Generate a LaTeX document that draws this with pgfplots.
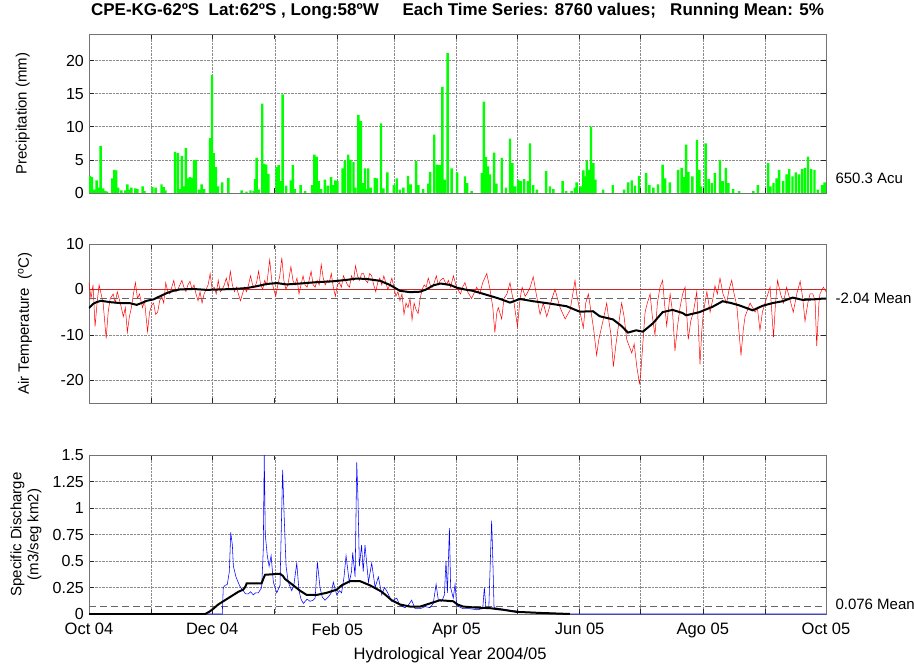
\documentclass[border=0pt]{standalone}
\usepackage{pgfplots}
\pgfplotsset{compat=1.18}
\usepackage{fontspec}
\setmainfont{Liberation Sans}
\definecolor{mgreen}{rgb}{0,1,0}
\definecolor{mred}{rgb}{1,0,0}
\definecolor{zred}{rgb}{0.8,0.15,0.15}
\definecolor{mblue}{rgb}{0,0,1}
\definecolor{dgray}{rgb}{0.4,0.4,0.4}
\pgfplotsset{
  mstyle/.style={
    scale only axis, width=737pt, height=159pt,
    xmin=0, xmax=365,
    xtick={0,31,61,92,123,151,182,212,243,273,304,335,365},
    xmajorgrids, ymajorgrids,
    major grid style={densely dotted, black!45, line width=0.5pt},
    axis line style={black!55, line width=0.7pt},
    tick style={black!85, line width=0.6pt},
    tick align=inside, tick pos=both, major tick length=5pt,
    tick label style={font=\fontsize{16}{16}\selectfont},
    yticklabel style={inner sep=1pt, xshift=-4pt},
    label style={font=\fontsize{15}{17}\selectfont},
    /pgf/number format/assume math mode=true,
    clip mode=individual,
  }
}
\begin{document}
\begin{tikzpicture}
\path[use as bounding box] (0pt,0pt) rectangle (914pt,-671pt);
% ---------------- Precipitation ----------------
\begin{axis}[mstyle, at={(89pt,-34pt)}, anchor=north west,
  ymin=0, ymax=24, ytick={0,5,10,15,20}, xticklabels={},
  ylabel={Precipitation (mm)},
  ylabel style={at={(axis description cs:-0.09,0.5)}, anchor=center},
  title={\bfseries\fontsize{17}{18}\selectfont CPE-KG-62ºS\ \ Lat:62ºS , Long:58ºW\ \ \ \ \ Each Time Series: 8760 values;\ \ \ Running Mean: 5\%},
  title style={at={(axis description cs:0.5,1)}, anchor=center, yshift=17pt},
]
\addplot[ybar, bar width=1.2, bar shift=0pt, fill=mgreen, draw=none] coordinates {
(0.5,2.6)(1.5,2.4)(2.5,0.5)(3.8,1.9)(4.8,0.8)(5.8,7.1)(7,0.7)(8,0.3)(9,0.2)(11.5,2.2)(12.5,3.5)(13.5,3.4)(14.5,0.8)(16,0.4)(18,0.4)(19,1.3)(20,0.5)(21,0.8)(23,0.7)(24,0.6)(26.6,1.0)(27.5,0.3)(31.4,0.9)(33,0.8)(35.9,1.3)(37,0.9)(37.8,0.4)(42.6,6.2)(44,6.0)(45,0.6)(46,5.6)(47,1.0)(48,6.8)(49,2.2)(50,2.4)(51,2.3)(52,5.0)(53,5.0)(54.5,0.5)(55.8,1.3)(57,0.6)(60,8.3)(60.9,17.8)(61.8,6.0)(62.8,3.9)(63.8,1.0)(65.9,1.6)(69,2.3)(75.6,0.4)(78,0.2)(80,0.4)(81.5,0.3)(82.3,2.1)(83,5.3)(84,0.5)(85.8,13.5)(86.7,4.4)(87.8,4.3)(88.9,2.9)(92.9,3.9)(93.9,4.2)(94.9,1.8)(95.9,14.9)(97.7,1.1)(100,1.9)(101,4.2)(102,0.6)(104.8,1.2)(107,0.3)(110.5,1.2)(111.6,5.8)(112.7,5.5)(113.7,1.8)(115,0.6)(116.8,2.0)(118.3,1.1)(119.9,2.4)(121,1.2)(122,1.9)(123,1.8)(125.6,3.7)(126.7,4.9)(128.4,5.8)(129.5,5.0)(131,4.7)(132,0.8)(133.4,11.8)(134.7,10.9)(135.7,1.5)(136.7,3.7)(137.7,0.6)(138.3,3.7)(139.5,0.8)(141.6,2.3)(142.6,2.2)(144.6,10.5)(145.8,0.7)(147.8,3.1)(151,1.2)(152.4,2.2)(154,0.5)(155.7,0.8)(158,2.6)(159.3,1.3)(162,4.8)(163.2,1.2)(165.5,0.6)(168,1.4)(168.9,3.2)(171,8.8)(172.4,4.3)(173.8,4.2)(175,16.0)(176.2,2.0)(177.6,21.1)(179.6,3.7)(182.3,3.1)(186.2,2.5)(187.3,1.5)(189.5,0.3)(194.5,3.0)(195.6,13.8)(196.6,5.4)(197.6,4.0)(198.5,2.8)(200.6,6.1)(201.8,1.4)(204.4,5.3)(206.5,0.8)(208.5,8.2)(209.7,4.5)(211,1.0)(212.6,2.0)(213.8,1.8)(215.5,2.1)(217.3,1.8)(218.4,7.5)(220,1.2)(221.8,0.5)(226.4,3.3)(228.3,1.0)(230,0.6)(234.6,1.8)(236.3,0.3)(239,0.3)(240.6,0.8)(241.5,1.6)(243.5,1.0)(244.8,3.4)(245.7,2.5)(246.5,4.8)(247.6,3.5)(248.6,10.0)(249.8,4.5)(250.8,2.0)(254.6,0.5)(259.4,1.2)(265,0.5)(267,1.6)(268.8,1.9)(270.4,1.1)(272.4,2.6)(275.9,3.0)(277.5,1.2)(279.5,0.8)(281.8,1.3)(284.1,4.3)(285.3,2.2)(287.7,1.6)(291.8,3.5)(293.5,3.8)(294.6,2.4)(295.7,7.3)(296.9,3.2)(298.8,2.5)(301.1,8.0)(302.3,3.5)(303.2,1.0)(305.4,7.5)(306.9,2.1)(308.4,1.5)(310,3.0)(312.5,5.0)(313.8,1.8)(315.4,3.8)(316.7,1.5)(319,0.6)(322,0.3)(329,0.3)(331.3,1.2)(336.3,4.5)(337.5,1.0)(339,1.5)(340.5,2.2)(341.8,3.5)(343.8,1.8)(345.5,2.8)(346.8,3.6)(348.4,2.5)(350,3.1)(351.6,2.8)(353.2,3.6)(354.6,3.8)(356.1,5.5)(357.7,3.6)(359.3,3.5)(361,0.5)(363,1.2)(364.3,1.6)
};
\node[anchor=west, font=\fontsize{15}{15}\selectfont, xshift=6pt] at (axis cs:365,2.25) {650.3 Acu};
\end{axis}
% ---------------- Air temperature ----------------
\begin{axis}[mstyle, at={(89pt,-244pt)}, anchor=north west,
  ymin=-25, ymax=10, ytick={-20,-10,0,10}, xticklabels={},
  ylabel={Air Temperature\ \ (\textsuperscript{o}C)},
  ylabel style={at={(axis description cs:-0.087,0.5)}, anchor=center},
]
\addplot[zred, line width=0.6pt] coordinates {(0,0) (365,0)};
\addplot[mred, line width=0.5pt] coordinates {
(0,1.5)(1,-2)(2,1.0)(3,-8.2)(4,-3)(5,1.0)(6,-1)(7,-3)(8.5,-10.8)(9.5,-5)(10.5,-2)(12,-1)(13,-3)(14,-0.5)(15.5,-3)(17,-6)(18,-4)(19,-9.4)(20,-6)(21,-4)(22,-1)(23,1.5)(24,-2)(25,-1)(26.5,-4)(27.5,-2.5)(29,-9.3)(30,-5)(31,-3.5)(32,-3)(33,-5.5)(34,-5)(35,-2.5)(36,-1.5)(37,-3)(38,1.5)(39,-0.5)(40,-1)(41,0.5)(42,2.0)(43,-0.5)(44,0)(45,1)(46,2.0)(47,0.5)(48,-0.5)(49,1)(50,1.8)(51,0)(52,1)(53,-1)(54,-2.5)(55,-0.5)(56,-3)(57,-1)(58,0)(59,1)(60,3.5)(61,0)(62,0.5)(63,-1)(64,2.0)(65,-0.5)(66,0)(67,1)(68,2.5)(69,0.5)(70,4.0)(71,1)(72,-0.5)(73,0.5)(74,-1)(75,-2.5)(76,-1)(77,0.5)(78,-0.5)(79,1)(80,3.0)(81,1)(82,0.5)(83,1.5)(84,4.0)(85,1)(86,0)(87,2)(88,1)(89.5,6.5)(90.5,2.0)(91.5,0)(92.5,-1.5)(93.5,1)(94.5,3)(95.5,7.0)(96.5,2)(97.5,0)(98.5,1)(100,5)(101,2)(102,1)(103,2.5)(104,-1)(105,1)(106,3)(107,1)(108,0.5)(109,2)(110,4)(111,1)(112,0.5)(113,2)(114,1)(115,5.5)(116,2.5)(117,1)(118,2)(119,1.5)(120,3.5)(121,0.5)(122,-1.5)(123,1)(124,1.5)(125,0.5)(126,3)(127,2)(128,1)(129,0.5)(130,3)(131,2)(132,5.2)(133,3)(134,2)(135,3.5)(136,3.5)(137,2)(138,1.5)(139,3.5)(140,3)(141,1)(142,-0.5)(143,1.5)(144,2.5)(145,1)(146,3)(147,1.5)(148,0)(149,1)(150,2.5)(151,0.5)(152,-1.5)(153,-0.5)(154,-2.5)(155,-1)(156,-5.5)(157,-3)(158,-4)(159,-2)(160,-6.7)(161,-3)(162,-4.5)(163,-5.3)(164,-2)(165,0)(166,1)(167,0.5)(168,2.5)(169,1)(170,0.5)(171,1.5)(172,3)(173,1)(174,2)(175.5,2.5)(177,1)(178,2)(179,0.5)(180.5,3.0)(182,0.5)(184,-1.0)(185,0.5)(186.2,1.5)(187.5,-0.5)(189.5,-2.0)(191,-0.5)(192,0.5)(193.5,-1)(195,1.5)(197,3.5)(198.6,0)(200,-4)(201,-9.5)(202,-5)(202.7,-4)(204.4,-6.5)(205.5,-2)(207,-1)(208.5,1.5)(209.5,-1)(210.5,-3)(212.2,-8.2)(213.5,-2)(214.5,0.5)(216,-1.5)(216.8,-1)(218.5,0.5)(220,2.8)(221.5,-1)(223.4,-5.5)(225,-3)(226.7,-6)(228,-4)(229.3,-2)(230.8,0.0)(232,-2)(233.3,-4)(235.8,-6.5)(238.3,-4.5)(240.7,2.0)(241.5,-1)(243.2,-5)(244.8,-8.5)(246,-3)(247.3,-1.0)(249,-6)(250,-9)(251.4,-14.5)(252.5,-11)(254,-8)(255,-6)(256.4,-3)(257.5,-7)(258.5,-10)(259.7,-17)(261,-12)(262.2,-8)(263.8,-3)(265,-6)(266.3,-11)(268.8,-14)(270,-12)(271.3,-17)(272.6,-20.7)(273.2,-19)(273.8,-15)(275.4,-5)(276.5,-3)(277.9,-1)(279,-6)(280.3,-10)(281.5,-3)(282.8,0.5)(284.1,2)(285,-3)(286.1,-8)(287.8,-1)(289,-5)(290.2,-13.5)(291.5,-8)(292.7,-4)(294,-1)(295.2,0.5)(296.8,-11)(298,-7)(299.3,-5)(301,-0.5)(302.6,-16.5)(303.5,-9)(304.3,-5)(306,-0.5)(307.6,-5)(309,-2)(310,0.8)(311.2,-1)(312.5,2.5)(314,-1)(315.8,-3)(317,0)(318.3,2.0)(319.5,-1)(320.8,-3.5)(322.9,-14.5)(324,-9)(324.9,-6)(327.4,-3)(329.9,-5)(331,-4)(332.3,-9)(333.5,-5)(334.8,-3)(337.3,0.5)(338,-4)(339,-10.5)(340,-3)(341,2.0)(342.5,-1)(343.9,-3)(345.5,0.5)(347,-2)(348.8,-5)(350.5,-1)(352.2,1.8)(353.5,-2)(354.6,-7)(356,-3)(357.1,-1)(358.5,-1)(359.6,-2.5)(360.4,-12.5)(361.5,-3)(362,-1)(363.7,0.5)(365,-0.5)
};
\addplot[dgray, line width=0.8pt, dash pattern=on 7pt off 4pt] coordinates {(0,-2.04) (365,-2.04)};
\addplot[black, line width=2pt] coordinates {
(0,-4.1)(2,-3.2)(3.7,-2.8)(6,-2.5)(10.4,-2.8)(15.4,-3.0)(20,-3.0)(23.6,-3.4)(26,-3.0)(28.6,-2.5)(31.9,-2.2)(35.2,-1.5)(38.5,-0.8)(41.8,-0.3)(45,0.0)(51.7,0.1)(58.3,-0.1)(64.9,0)(71.5,0.1)(78.1,0.3)(83,0.7)(88,1.2)(93,1.4)(97.9,1.1)(104.5,1.3)(112.7,1.6)(121,1.8)(127.6,2.1)(132.6,2.4)(137.5,2.3)(144.1,1.9)(149,1.0)(154,-0.3)(159,-0.6)(164,-0.5)(167,0.0)(170.6,0.9)(174,1.3)(178.8,1.0)(182,0.4)(186,0.0)(190,-0.3)(194,-0.8)(198.5,-1.4)(203,-2.0)(208.5,-2.9)(213.4,-2.1)(220,-2.6)(228,-3.1)(236.5,-3.7)(243,-4.9)(249.6,-4.8)(252.9,-5.9)(259.5,-6.6)(263.6,-8.0)(266.9,-9.5)(271,-9.0)(274.3,-9.3)(279.2,-7.5)(284.1,-5.0)(289,-4.5)(294,-5.2)(295.7,-5.7)(302.3,-5.0)(308.9,-3.8)(313.8,-2.6)(318,-3.0)(322,-3.5)(328.7,-4.6)(333.6,-3.6)(338.6,-3.0)(343.5,-2.6)(348.5,-1.8)(353.4,-2.3)(358.4,-2.2)(364,-2.0)(365,-2.0)
};
\node[anchor=west, font=\fontsize{15}{15}\selectfont, xshift=6pt] at (axis cs:365,-2.04) {-2.04 Mean};
\end{axis}
% ---------------- Discharge ----------------
\begin{axis}[mstyle, at={(89pt,-455pt)}, anchor=north west,
  ymin=0, ymax=1.5, ytick={0,0.25,0.5,0.75,1,1.25,1.5},
  xticklabels={Oct 04,,Dec 04,,Feb 05,,Apr 05,,Jun 05,,Ago 05,,Oct 05},
  xticklabel style={font=\fontsize{16.5}{16.5}\selectfont, inner sep=1pt, yshift=-8pt},
  ylabel={Specific Discharge\\(m3/seg km2)},
  ylabel style={at={(axis description cs:-0.0855,0.5)}, anchor=center, align=center},
  xlabel={Hydrological Year 2004/05},
  xlabel style={at={(axis description cs:0.49,-0.26)}, anchor=center, font=\fontsize{16.5}{17}\selectfont},
]
\addplot[dgray, line width=0.8pt, dash pattern=on 7pt off 4pt] coordinates {(0,0.076) (365,0.076)};
\addplot[mblue, line width=0.55pt] coordinates {
(0,0)(66,0)(66.5,0.25)(67.4,0.27)(68.5,0.28)(69.5,0.40)(70.2,0.77)(71,0.65)(71.5,0.45)(72.8,0.35)(74.5,0.27)(75.5,0.24)(76.4,0.22)(77.5,0.19)(78.9,0.19)(80,0.21)(81.4,0.18)(82.5,0.20)(83.9,0.20)(85.5,0.25)(86.3,0.60)(86.8,1.5)(87.3,0.75)(88.3,0.55)(89.2,0.45)(90.2,0.55)(91.3,0.30)(93,0.20)(94.6,0.27)(95.9,1.36)(96.6,0.95)(97.6,0.45)(98.7,0.30)(100.4,0.22)(101.5,0.28)(102.9,0.48)(104,0.22)(105,0.14)(106.2,0.10)(108,0.14)(109.5,0.12)(111,0.13)(112,0.15)(113.1,0.49)(114.4,0.25)(115.5,0.16)(116.9,0.13)(118.5,0.16)(120,0.20)(121,0.30)(122.7,0.18)(124,0.22)(125.1,0.20)(126.3,0.35)(127.3,0.55)(128.9,0.30)(130,0.40)(130.6,0.58)(131.8,0.35)(132.6,1.43)(133.2,1.10)(133.9,0.45)(135,0.65)(135.8,0.40)(136.7,0.65)(138.4,0.30)(140,0.48)(141.7,0.25)(143.3,0.35)(145,0.18)(146.3,0.25)(147.4,0.22)(149.9,0.12)(152.4,0.15)(154,0.08)(156.5,0.06)(158,0.08)(159.8,0.13)(161.5,0.05)(164,0.05)(166.5,0.07)(168.9,0.06)(170.5,0.10)(171.9,0.28)(173,0.13)(174.7,0.12)(176,0.18)(176.8,0.50)(177.5,0.20)(178.5,0.81)(179.1,0.25)(180.4,0.15)(181.3,0.28)(182.1,0.08)(185.3,0.05)(188.7,0.05)(192,0.04)(195,0.05)(195.8,0.25)(196.6,0.05)(198,0.05)(199.4,0.88)(199.9,0.58)(200.6,0.06)(206.9,0.04)(215,0.02)(228.3,0.01)(233,0)(365,0)
};
\addplot[black, line width=2pt] coordinates {
(0,0)(57.5,0)(59.5,0.02)(61.6,0.05)(64,0.09)(66.5,0.12)(69,0.15)(71.5,0.18)(74,0.21)(76.4,0.23)(77.5,0.26)(78.1,0.29)(85.5,0.29)(86.5,0.34)(87.2,0.37)(94.6,0.38)(96,0.36)(97.1,0.33)(101.2,0.27)(104.5,0.22)(107.8,0.18)(112.8,0.18)(117.7,0.20)(122.7,0.23)(125.1,0.27)(129.3,0.31)(134.2,0.31)(139.2,0.27)(145,0.21)(149.9,0.13)(154,0.09)(159,0.07)(164,0.07)(168.9,0.10)(173.8,0.13)(180.4,0.12)(182.5,0.09)(185.3,0.07)(192,0.06)(198.6,0.055)(205,0.04)(211.8,0.02)(223.4,0.01)(238.2,0.0)
};
\node[anchor=west, font=\fontsize{15}{15}\selectfont, xshift=6pt] at (axis cs:365,0.095) {0.076 Mean};
\end{axis}
\end{tikzpicture}
\end{document}
